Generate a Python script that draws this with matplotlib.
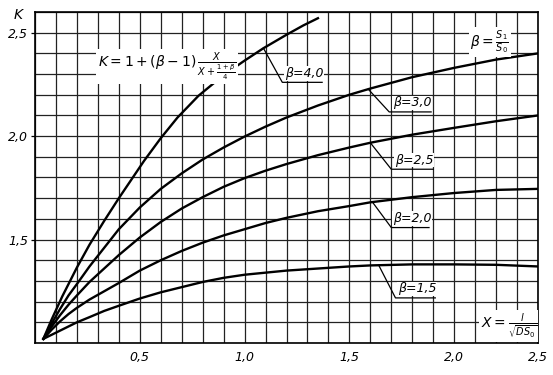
import numpy as np
import matplotlib.pyplot as plt
from matplotlib.ticker import MultipleLocator

plt.rcParams['mathtext.fontset'] = 'dejavusans'

# values (X = l / sqrt(D*S0), K)
x_b40 = [0.04, 0.08, 0.13, 0.2, 0.26, 0.33, 0.4, 0.46, 0.52, 0.6, 0.68, 0.78,
         0.9, 1.0, 1.09, 1.2, 1.28, 1.35]
k_b40 = [1.02, 1.115, 1.225, 1.365, 1.475, 1.59, 1.70, 1.79, 1.88, 1.99, 2.09, 2.195,
         2.295, 2.365, 2.425, 2.49, 2.535, 2.57]

x_pts = [0.04, 0.08, 0.12, 0.16, 0.2, 0.26, 0.33, 0.4, 0.5, 0.6, 0.7, 0.8,
         0.9, 1.0, 1.1, 1.2, 1.35, 1.5, 1.6, 1.8, 2.0, 2.2, 2.4]
k_b30 = [1.02, 1.095, 1.165, 1.23, 1.285, 1.37, 1.46, 1.55, 1.655, 1.745, 1.82, 1.887,
         1.945, 1.998, 2.046, 2.09, 2.148, 2.2, 2.23, 2.285, 2.33, 2.37, 2.40]
k_b25 = [1.02, 1.08, 1.135, 1.185, 1.23, 1.295, 1.36, 1.425, 1.51, 1.585, 1.65, 1.705,
         1.755, 1.797, 1.833, 1.865, 1.908, 1.945, 1.968, 2.007, 2.04, 2.072, 2.10]
k_b20 = [1.02, 1.065, 1.105, 1.14, 1.17, 1.21, 1.25, 1.29, 1.35, 1.40, 1.445, 1.485,
         1.52, 1.55, 1.58, 1.605, 1.637, 1.662, 1.68, 1.705, 1.725, 1.74, 1.745]
k_b15 = [1.02, 1.04, 1.06, 1.08, 1.10, 1.125, 1.155, 1.18, 1.215, 1.245, 1.27, 1.295,
         1.315, 1.33, 1.34, 1.35, 1.36, 1.37, 1.375, 1.38, 1.38, 1.378, 1.37]

beta_labels = ['β=4,0', 'β=3,0', 'β=2,5', 'β=2,0', 'β=1,5']
x_ticks = [0.5, 1.0, 1.5, 2.0, 2.4]
x_ticklabels = ['0,5', '1,0', '1,5', '2,0', '2,5']
y_ticks = [1.5, 2.0, 2.5]
y_ticklabels = ['1,5', '2,0', '2,5']

fig = plt.figure(figsize=(5.53, 3.75), dpi=100)
ax = fig.add_axes([35/553, 32/375, 503/553, 331/375])

curves = [(x_b40, k_b40), (x_pts, k_b30), (x_pts, k_b25), (x_pts, k_b20), (x_pts, k_b15)]
for xs, ks in curves:
    ax.plot(xs, ks, color='black', lw=1.7, zorder=3, solid_joinstyle='round')

# leader lines: (x on curve, elbow x, elbow K, end of underline)
leaders = [(1.09, 1.18, 2.26, 1.37),
           (1.59, 1.69, 2.117, 1.89),
           (1.60, 1.70, 1.84, 1.90),
           (1.61, 1.70, 1.558, 1.88),
           (1.64, 1.72, 1.218, 1.91)]
for (xs, ks), lab, (xa, xe, ye, xu) in zip(curves, beta_labels, leaders):
    ya = np.interp(xa, xs, ks)
    ax.plot([xa, xe, xu], [ya, ye, ye], color='black', lw=0.9, zorder=4)
    ax.text((xe + xu) / 2 + 0.01, ye + 0.012, lab, ha='center', va='bottom',
            fontsize=9, style='italic', zorder=5,
            bbox=dict(facecolor='white', edgecolor='none', pad=0.5))

box = dict(facecolor='white', edgecolor='none', pad=1)
ax.text(0.30, 2.335, r'$K=1+(\beta-1)\,\frac{X}{X+\frac{1+\beta}{4}}$',
        ha='left', va='center', fontsize=10, zorder=5, bbox=box)
ax.text(2.17, 2.456, r'$\beta=\frac{S_1}{S_0}$', ha='center', va='center',
        fontsize=10, zorder=5, bbox=box)
ax.text(2.26, 1.083, r'$X=\frac{l}{\sqrt{DS_0}}$', ha='center', va='center',
        fontsize=10, zorder=5, bbox=box)
fig.text(18/553, 1 - 15/375, 'K', ha='center', va='center', fontsize=10, style='italic')

ax.set_xlim(0, 2.4)
ax.set_ylim(1.0, 2.6)
ax.xaxis.set_minor_locator(MultipleLocator(0.1))
ax.yaxis.set_minor_locator(MultipleLocator(0.1))
ax.set_xticks(x_ticks)
ax.set_xticklabels(x_ticklabels, fontsize=9, style='italic')
ax.set_yticks(y_ticks)
ax.set_yticklabels(y_ticklabels, fontsize=9, style='italic')
ax.tick_params(axis='x', which='both', length=0, pad=6)
ax.tick_params(axis='y', which='major', length=3, width=0.9, pad=2)
ax.tick_params(axis='y', which='minor', length=0)
ax.grid(which='both', color='#222222', lw=0.9)
ax.set_axisbelow(True)
for s in ax.spines.values():
    s.set_linewidth(1.2)

fig.savefig('out.png', dpi=100)
